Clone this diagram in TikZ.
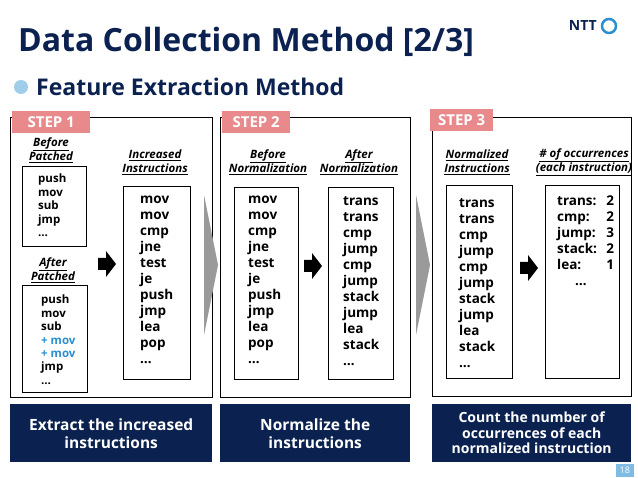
\documentclass[tikz,border=0pt]{standalone}
\usepackage{fontspec}
\setmainfont{Open Sans}
\definecolor{navy}{HTML}{0B2250}
\definecolor{pinkl}{HTML}{E88A8C}
\definecolor{bluep}{HTML}{2A8FD0}
\definecolor{chev}{HTML}{9A9A9A}
\begin{document}
\begin{tikzpicture}[x=1pt,y=-1pt,
  panel/.style={draw=black,line width=1pt},
  ibox/.style={draw=black,line width=1pt},
  steplbl/.style={fill=pinkl,text=white,font=\fontsize{15}{15}\selectfont\bfseries,inner sep=0pt,minimum height=22pt,anchor=west},
  hdr/.style={font=\fontsize{11.5}{14}\selectfont\bfseries\itshape,align=center,inner sep=0pt},
  bottom/.style={fill=navy,text=white,font=\fontsize{15.5}{18}\selectfont\bfseries,align=center,inner sep=0pt},
  items/.style={anchor=north west,font=\fontsize{11.5}{13.4}\selectfont\bfseries,align=left,inner sep=0pt},
  bitems/.style={anchor=north west,font=\fontsize{13.5}{16}\selectfont\bfseries,align=left,inner sep=0pt},
  blk/.style={fill=black,draw=none},
]
\useasboundingbox (0,0) rectangle (638,478);
\fill[white] (0,0) rectangle (638,478);
\node[anchor=west,text=navy,font=\fontsize{32}{32}\selectfont\bfseries,inner sep=0pt] (title) at (18,42) {Data Collection Method [2/3]};
\node[anchor=east,text=navy,font=\fontsize{14}{14}\selectfont\bfseries,inner sep=0pt] (ntt) at (597,26) {NTT};
\draw[bluep,line width=2.5pt] (609,26) circle (7);
\fill[bluep!45] (21,87) circle (7);
\node[anchor=west,text=navy,font=\fontsize{23}{23}\selectfont\bfseries,inner sep=0pt] (sub) at (36,87) {Feature Extraction Method};

% panels
\draw[panel] (10,118) rectangle (212,398);
\draw[panel] (220,118) rectangle (410,398);
\draw[panel] (432,118) rectangle (631,397);
\node[steplbl,minimum width=78pt] (s1) at (12,122) {STEP 1};
\node[steplbl,minimum width=68pt] (s2) at (222,122) {STEP 2};
\node[steplbl,minimum width=63pt] (s3) at (430,120) {STEP 3};

% chevrons
\fill[chev] (204,195) -- (218,265) -- (204,335) -- cycle;
\fill[chev] (416,195) -- (430,265) -- (416,335) -- cycle;

% Step 1
\node[hdr] (h1) at (51,150) {\underline{Before}\\\underline{Patched}};
\draw[ibox] (22,167) rectangle (86,247);
\node[items] (l1) at (38,174) {push\\mov\\sub\\jmp\\…};
\node[hdr] (h2) at (53,270) {\underline{After}\\\underline{Patched}};
\draw[ibox] (22,286) rectangle (87,393);
\node[items] (l2) at (41,295) {push\\mov\\sub\\\textcolor{bluep}{+ mov}\\\textcolor{bluep}{+ mov}\\jmp\\…};
\node[hdr] (h3) at (155,162) {\underline{Increased}\\\underline{Instructions}};
\draw[ibox] (123,187) rectangle (190,380);
\node[bitems] (l3) at (140,196) {mov\\mov\\cmp\\jne\\test\\je\\push\\jmp\\lea\\pop\\…};
\fill[blk] (98,258) -- (106,258) -- (106,251) -- (116,264) -- (106,277) -- (106,270) -- (98,270) -- cycle;

% Step 2
\node[hdr] (h4) at (268,162) {\underline{Before}\\\underline{Normalization}};
\node[hdr] (h5) at (359,162) {\underline{After}\\\underline{Normalization}};
\draw[ibox] (234,188) rectangle (298,380);
\draw[ibox] (328,188) rectangle (393,380);
\node[bitems] (l4) at (248,196) {mov\\mov\\cmp\\jne\\test\\je\\push\\jmp\\lea\\pop\\…};
\node[bitems] (l5) at (343,196) {trans\\trans\\cmp\\jump\\cmp\\jump\\stack\\jump\\lea\\stack\\…};
\fill[blk] (304,260) -- (312,260) -- (312,253) -- (322,266) -- (312,279) -- (312,272) -- (304,272) -- cycle;

% Step 3
\node[hdr] (h6) at (477,162) {\underline{Normalized}\\\underline{Instructions}};
\node[hdr] (h7) at (584,162) {\underline{\# of occurrences}\\\underline{(each instruction)}};
\draw[ibox] (446,186) rectangle (512,379);
\draw[ibox] (545,186) rectangle (619,379);
\node[bitems] (l6) at (459,198) {trans\\trans\\cmp\\jump\\cmp\\jump\\stack\\jump\\lea\\stack\\…};
\node[bitems,text width=57pt] (l7) at (557,196) {trans:\hfill 2\\cmp:\hfill 2\\jump:\hfill 3\\stack:\hfill2\\lea:\hfill 1\\\hspace*{18pt}…};
\fill[blk] (520,262) -- (528,262) -- (528,255) -- (538,268) -- (528,281) -- (528,274) -- (520,274) -- cycle;

% bottom boxes
\node[bottom,minimum width=202pt,minimum height=58pt,anchor=north west] (b1) at (10,404) {Extract the increased\\instructions};
\node[bottom,minimum width=190pt,minimum height=58pt,anchor=north west] (b2) at (220,404) {Normalize the\\instructions};
\node[bottom,minimum width=199pt,minimum height=58pt,anchor=north west,font=\fontsize{14}{15.5}\selectfont\bfseries] (b3) at (432,404) {Count the number of\\occurrences of each\\normalized instruction};
\node[fill=bluep!60,text=white,font=\fontsize{9}{9}\selectfont,minimum width=18pt,minimum height=13pt,inner sep=0pt,anchor=north east] (pg) at (634,464) {18};
\end{tikzpicture}
\end{document}
